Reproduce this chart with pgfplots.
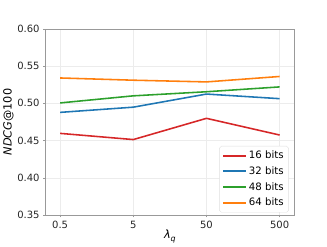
\documentclass[border=0pt]{standalone}
\usepackage{pgfplots}
\pgfplotsset{compat=1.18}
\usepackage{fontspec}
\setmainfont{DejaVu Sans}
\definecolor{tred}{HTML}{D62728}
\definecolor{tblue}{HTML}{1F77B4}
\definecolor{tgreen}{HTML}{2CA02C}
\definecolor{torange}{HTML}{FF7F0E}
\begin{document}
\begin{tikzpicture}[x=1bp,y=1bp]
\begin{axis}[
  at={(0,0)}, anchor=south west,
  scale only axis, width=253bp, height=189.4bp,
  xmin=-0.2, xmax=3.2, ymin=0.35, ymax=0.60,
  xtick={0,1,2,3}, xticklabels={0.5,5,50,500},
  ytick={0.35,0.40,0.45,0.50,0.55,0.60},
  yticklabel style={/pgf/number format/.cd,fixed,fixed zerofill,precision=2},
  /pgf/number format/assume math mode=true,
  tick label style={font=\fontsize{10.2}{11}\selectfont, color=black!85},
  grid=major, grid style={gray!15, line width=0.4pt},
  axis line style={gray!80, line width=0.6pt},
  tick align=outside, tick style={gray!80, line width=0.5pt},
  major tick length=2.5bp,
  xtick pos=bottom, ytick pos=left,
  xlabel={{\itshape λ}\raisebox{-0.4ex}{\fontsize{8}{9}\selectfont\itshape q}},
  ylabel={{\itshape NDCG}@100},
  label style={font=\fontsize{11.5}{12}\selectfont},
  xlabel style={yshift=5bp},
  ylabel style={yshift=-3bp},
  legend style={at={(0.978,0.014)}, anchor=south east, font=\fontsize{10.4}{11}\selectfont,
    draw=gray!25, rounded corners=2pt, row sep=2.6pt, inner sep=3pt},
  legend cell align=left,
  legend image code/.code={\draw[#1, line width=2pt] (-2bp,0bp) -- (21bp,0bp);},
]
\addplot[tred, line width=1.6pt] coordinates {(0,0.4596) (1,0.4513) (2,0.4798) (3,0.4574)};
\addlegendentry{16 bits}
\addplot[tblue, line width=1.6pt] coordinates {(0,0.4878) (1,0.4948) (2,0.5124) (3,0.5062)};
\addlegendentry{32 bits}
\addplot[tgreen, line width=1.6pt] coordinates {(0,0.5005) (1,0.5100) (2,0.5155) (3,0.5220)};
\addlegendentry{48 bits}
\addplot[torange, line width=1.6pt] coordinates {(0,0.5340) (1,0.5310) (2,0.5287) (3,0.5360)};
\addlegendentry{64 bits}
\end{axis}
\path[use as bounding box] (-40.7bp,-26.3bp) rectangle (286.3bp,218.7bp);
\end{tikzpicture}
\end{document}
